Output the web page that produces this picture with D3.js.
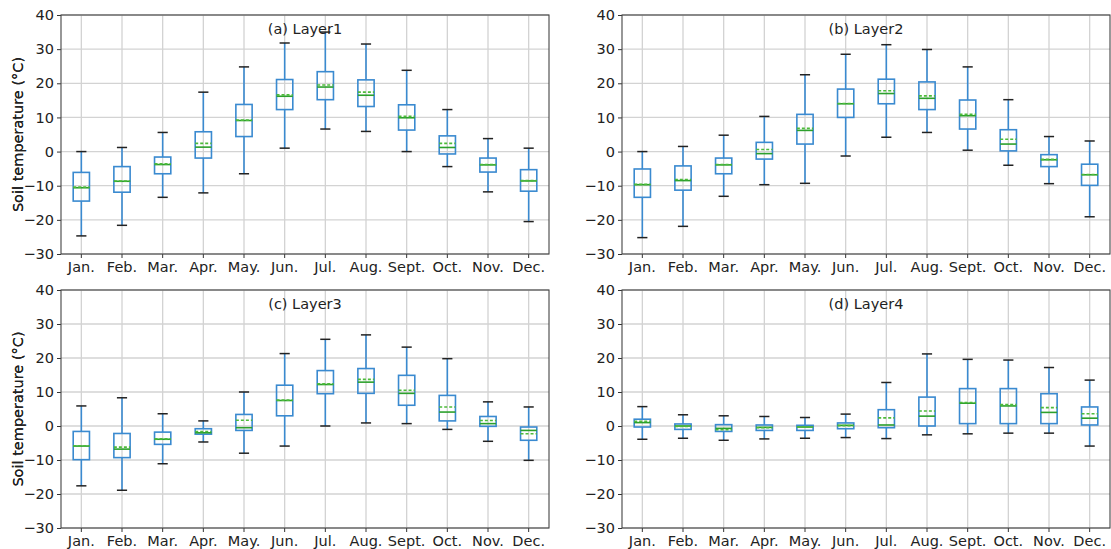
<!DOCTYPE html>
<html>
<head>
<meta charset="utf-8">
<script src="https://cdn.jsdelivr.net/npm/d3@7"></script>
<style>
  html, body { margin: 0; padding: 0; background: #fff; }
  svg { display: block; }
  text { font-family: "DejaVu Sans", sans-serif; fill: #222; }
</style>
</head>
<body>
<svg id="chart" width="1111" height="549"></svg>
<script>
// Monthly soil temperature distributions (°C) for four soil layers.
const months = ["Jan.", "Feb.", "Mar.", "Apr.", "May.", "Jun.", "Jul.", "Aug.", "Sept.", "Oct.", "Nov.", "Dec."];
const yTicks = [-30, -20, -10, 0, 10, 20, 30, 40];
const panelTitles = ["(a) Layer1", "(b) Layer2", "(c) Layer3", "(d) Layer4"];

// Each row: [lower whisker, Q1, median, mean, Q3, upper whisker]
const layer1 = [
  [-24.7, -14.5, -10.6, -10.4, -6.1, 0.0],
  [-21.6, -11.9, -8.7, -8.6, -4.4, 1.2],
  [-13.4, -6.5, -3.8, -3.6, -1.6, 5.6],
  [-12.1, -1.9, 1.3, 2.4, 5.8, 17.4],
  [-6.5, 4.4, 9.1, 9.2, 13.8, 24.8],
  [1.0, 12.3, 16.2, 16.6, 21.1, 31.8],
  [6.6, 15.2, 18.9, 19.5, 23.4, 35.0],
  [5.9, 13.2, 16.5, 17.4, 21.0, 31.5],
  [0.0, 6.3, 9.9, 10.3, 13.7, 23.8],
  [-4.4, -0.7, 1.2, 2.4, 4.6, 12.3],
  [-11.8, -6.0, -3.9, -3.8, -1.9, 3.8],
  [-20.5, -11.6, -8.6, -8.5, -5.3, 1.0]
];
const layer2 = [
  [-25.2, -13.4, -9.7, -9.6, -5.1, 0.0],
  [-21.9, -11.3, -8.5, -8.2, -4.2, 1.5],
  [-13.1, -6.5, -3.9, -3.8, -1.9, 4.8],
  [-9.7, -2.2, -0.6, 0.6, 2.7, 10.3],
  [-9.3, 2.2, 6.2, 6.8, 10.9, 22.5],
  [-1.3, 10.0, 14.0, 14.1, 18.3, 28.5],
  [4.2, 14.0, 17.0, 17.8, 21.2, 31.3],
  [5.6, 12.3, 15.6, 16.3, 20.4, 29.9],
  [0.4, 6.6, 10.5, 10.9, 15.1, 24.8],
  [-4.0, 0.2, 2.2, 3.6, 6.4, 15.2],
  [-9.4, -4.4, -2.4, -2.3, -0.9, 4.4],
  [-19.1, -9.9, -6.8, -6.7, -3.7, 3.1]
];
const layer3 = [
  [-17.6, -9.9, -5.9, -5.8, -1.6, 5.9],
  [-18.9, -9.3, -6.8, -6.2, -2.2, 8.3],
  [-11.1, -5.4, -3.9, -3.8, -1.8, 3.6],
  [-4.7, -2.4, -2.0, -1.6, -0.8, 1.5],
  [-8.0, -1.3, -0.5, 1.7, 3.4, 10.0],
  [-5.9, 3.0, 7.5, 7.6, 12.0, 21.3],
  [0.0, 9.5, 12.2, 12.4, 16.3, 25.5],
  [0.9, 9.6, 12.9, 13.7, 16.9, 26.8],
  [0.7, 6.1, 9.6, 10.5, 14.9, 23.2],
  [-1.0, 1.5, 4.1, 5.6, 9.0, 19.8],
  [-4.5, -0.1, 0.7, 1.6, 2.8, 7.1],
  [-10.1, -4.2, -1.3, -2.3, -0.3, 5.6]
];
const layer4 = [
  [-3.9, -0.3, 1.0, 1.4, 2.0, 5.7],
  [-3.6, -1.0, 0.0, -0.1, 0.6, 3.3],
  [-4.2, -1.6, -0.7, -1.1, 0.4, 3.0],
  [-3.8, -1.3, -0.4, -0.5, 0.3, 2.8],
  [-3.6, -1.3, -0.3, -0.3, 0.2, 2.5],
  [-3.4, -0.8, 0.2, 0.1, 0.9, 3.5],
  [-3.7, -0.5, 0.3, 2.4, 4.8, 12.8],
  [-2.6, 0.0, 2.9, 4.4, 8.5, 21.2],
  [-2.3, 0.7, 6.7, 6.9, 11.0, 19.6],
  [-2.1, 0.7, 5.9, 6.3, 11.0, 19.4],
  [-2.1, 0.7, 4.0, 5.4, 9.5, 17.2],
  [-5.9, 0.3, 2.3, 3.6, 5.6, 13.5]
];
const layers = [layer1, layer2, layer3, layer4];

// Plot-area rectangles for the 2x2 grid of panels
const panels = [
  { x0: 61,  x1: 549,  y0: 15,  y1: 254 },
  { x0: 622, x1: 1110, y0: 15,  y1: 254 },
  { x0: 61,  x1: 549,  y0: 290, y1: 528 },
  { x0: 622, x1: 1110, y0: 290, y1: 528 }
];

const boxColor = "#3a8ad0";
const capColor = "#222";
const medianColor = "#2ca02c";
const meanColor = "#4dbb3a";
const gridColor = "#d3d3d3";

const svg = d3.select("#chart");

panels.forEach((p, i) => {
  const data = layers[i];
  const g = svg.append("g");

  const x = d3.scaleBand().domain(months).range([p.x0, p.x1]).padding(0);
  const y = d3.scaleLinear().domain([-30, 40]).range([p.y1, p.y0]);
  const bw = x.bandwidth();
  const cx = m => x(m) + bw / 2;
  const boxW = bw * 0.4;
  const capW = bw * 0.25;

  // grid
  g.append("g").selectAll("line").data(yTicks).join("line")
    .attr("x1", p.x0).attr("x2", p.x1)
    .attr("y1", d => y(d)).attr("y2", d => y(d))
    .attr("stroke", gridColor).attr("stroke-width", 1.3);
  g.append("g").selectAll("line").data(months).join("line")
    .attr("x1", d => cx(d)).attr("x2", d => cx(d))
    .attr("y1", p.y0).attr("y2", p.y1)
    .attr("stroke", gridColor).attr("stroke-width", 1.3);

  // axes
  const yAxis = d3.axisLeft(y).tickValues(yTicks).tickSize(4).tickPadding(3).tickFormat(d3.format("d"));
  const ga = g.append("g").attr("transform", `translate(${p.x0},0)`).call(yAxis);
  const xAxis = d3.axisBottom(x).tickSize(4).tickPadding(4);
  const gx = g.append("g").attr("transform", `translate(0,${p.y1})`).call(xAxis);
  [ga, gx].forEach(a => {
    a.select(".domain").remove();
    a.selectAll(".tick line").attr("stroke", "#333").attr("stroke-width", 1);
    a.selectAll(".tick text").style("font-size", "14.5px").attr("fill", "#222")
      .style("font-family", "'DejaVu Sans', sans-serif");
  });

  // frame
  g.append("rect")
    .attr("x", p.x0).attr("y", p.y0)
    .attr("width", p.x1 - p.x0).attr("height", p.y1 - p.y0)
    .attr("fill", "none").attr("stroke", "#444").attr("stroke-width", 1.1);

  // y label
  g.append("text")
    .attr("transform", `translate(23,${(p.y0 + p.y1) / 2}) rotate(-90)`)
    .attr("text-anchor", "middle")
    .style("font-size", "14.5px")
    .text("Soil temperature (°C)");

  // boxes
  const items = g.append("g").selectAll("g").data(data.map((d, k) => ({ m: months[k], s: d }))).join("g");

  // whiskers
  items.append("line")
    .attr("x1", d => cx(d.m)).attr("x2", d => cx(d.m))
    .attr("y1", d => y(d.s[0])).attr("y2", d => y(d.s[1]))
    .attr("stroke", boxColor).attr("stroke-width", 1.6);
  items.append("line")
    .attr("x1", d => cx(d.m)).attr("x2", d => cx(d.m))
    .attr("y1", d => y(d.s[4])).attr("y2", d => y(d.s[5]))
    .attr("stroke", boxColor).attr("stroke-width", 1.6);
  // caps
  items.selectAll("line.cap").data(d => [d.s[0], d.s[5]].map(v => ({ m: d.m, v }))).join("line")
    .attr("class", "cap")
    .attr("x1", d => cx(d.m) - capW / 2).attr("x2", d => cx(d.m) + capW / 2)
    .attr("y1", d => y(d.v)).attr("y2", d => y(d.v))
    .attr("stroke", capColor).attr("stroke-width", 1.5);
  // box
  items.append("rect")
    .attr("x", d => cx(d.m) - boxW / 2).attr("width", boxW)
    .attr("y", d => y(d.s[4])).attr("height", d => y(d.s[1]) - y(d.s[4]))
    .attr("fill", "none").attr("stroke", boxColor).attr("stroke-width", 1.6);
  // median
  items.append("line")
    .attr("x1", d => cx(d.m) - boxW / 2).attr("x2", d => cx(d.m) + boxW / 2)
    .attr("y1", d => y(d.s[2])).attr("y2", d => y(d.s[2]))
    .attr("stroke", medianColor).attr("stroke-width", 1.6);
  // mean
  items.append("line")
    .attr("x1", d => cx(d.m) - boxW / 2).attr("x2", d => cx(d.m) + boxW / 2)
    .attr("y1", d => y(d.s[3])).attr("y2", d => y(d.s[3]))
    .attr("stroke", meanColor).attr("stroke-width", 1.6)
    .attr("stroke-dasharray", "3,2");

  // panel title
  g.append("text")
    .attr("x", (p.x0 + p.x1) / 2).attr("y", p.y0 + 19)
    .attr("text-anchor", "middle")
    .style("font-size", "14.5px")
    .text(panelTitles[i]);
});
</script>
</body>
</html>
